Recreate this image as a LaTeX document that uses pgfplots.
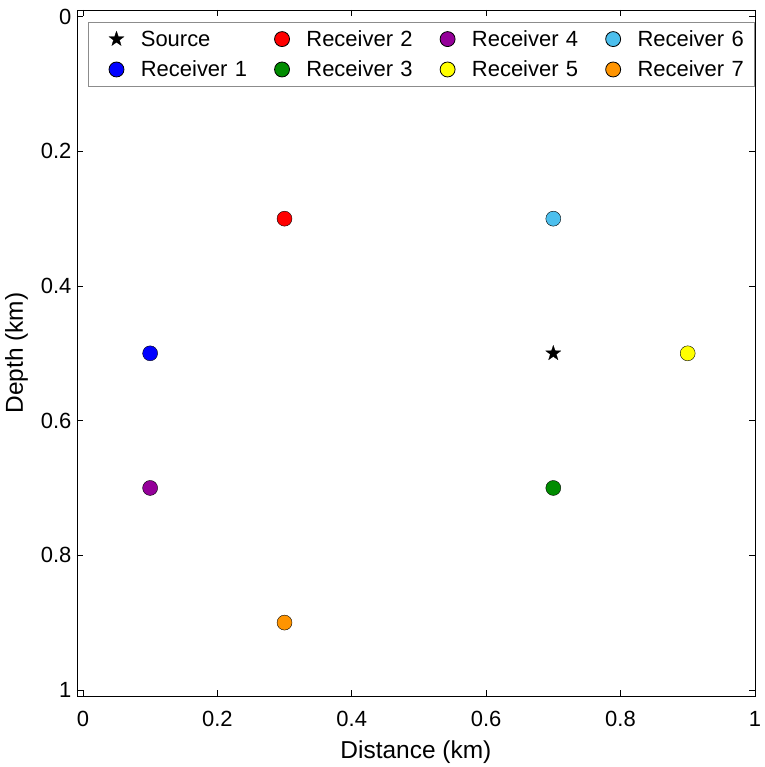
\documentclass[border=0pt]{standalone}
\usepackage{fontspec}
\setmainfont{Liberation Sans}
\usepackage{pgfplots}
\pgfplotsset{compat=1.18}

% filled five-pointed star
\pgfdeclareplotmark{fstar}{%
  \pgfpathmoveto{\pgfpointpolar{90}{\pgfplotmarksize}}%
  \pgfpathlineto{\pgfpointpolar{126}{0.4\pgfplotmarksize}}%
  \pgfpathlineto{\pgfpointpolar{162}{\pgfplotmarksize}}%
  \pgfpathlineto{\pgfpointpolar{198}{0.4\pgfplotmarksize}}%
  \pgfpathlineto{\pgfpointpolar{234}{\pgfplotmarksize}}%
  \pgfpathlineto{\pgfpointpolar{270}{0.4\pgfplotmarksize}}%
  \pgfpathlineto{\pgfpointpolar{306}{\pgfplotmarksize}}%
  \pgfpathlineto{\pgfpointpolar{342}{0.4\pgfplotmarksize}}%
  \pgfpathlineto{\pgfpointpolar{18}{\pgfplotmarksize}}%
  \pgfpathlineto{\pgfpointpolar{54}{0.4\pgfplotmarksize}}%
  \pgfpathclose
  \pgfusepathqfillstroke}

\definecolor{rOne}{rgb}{0,0,1}
\definecolor{rTwo}{rgb}{1,0,0}
\definecolor{rThree}{rgb}{0,0.55,0}
\definecolor{rFour}{rgb}{0.58,0,0.6}
\definecolor{rFive}{rgb}{1,1,0}
\definecolor{rSix}{rgb}{0.3,0.75,0.93}
\definecolor{rSeven}{rgb}{1,0.58,0}

\begin{document}
\begin{tikzpicture}
\begin{axis}[
  name=ax,
  scale only axis, width=679pt, height=687pt,
  xmin=-0.009, xmax=1, ymin=-0.01, ymax=1.009,
  y dir=reverse,
  xtick={0,0.2,0.4,0.6,0.8,1},
  ytick={0,0.2,0.4,0.6,0.8,1},
  xticklabels={0,0.2,0.4,0.6,0.8,1},
  yticklabels={0,0.2,0.4,0.6,0.8,1},
  tick align=inside, major tick length=6pt,
  tick style={black, line width=0.6pt},
  axis line style={line width=0.6pt},
  tick label style={font=\fontsize{22}{26}\selectfont},
  xticklabel style={yshift=-12pt},
  yticklabel style={xshift=-2pt},
  label style={font=\fontsize{24.5}{28}\selectfont},
  xlabel={Distance (km)}, ylabel={Depth (km)},
  xlabel style={yshift=-7pt},
  ylabel style={yshift=6pt},
  legend columns=4,
  legend cell align=left,
  legend style={at={(0.016,0.9825)}, anchor=north west,
    draw=black!45, line width=0.8pt,
    font=\fontsize{22}{26}\selectfont,
    inner xsep=2pt, inner ysep=6pt, row sep=9pt, column sep=0pt,
    nodes={inner xsep=0pt, text width=115pt, align=left}},
  every axis plot/.append style={only marks, mark size=7.5pt,
    mark options={draw=black!70, line width=0.5pt},
    legend image code/.code={%
      \path (0pt,0pt) (50pt,0pt);
      \draw[##1] plot coordinates {(26pt,0pt)};}},
]
\addplot[mark=fstar, mark size=8pt, mark options={fill=black, draw=black, line width=0.2pt}]
  coordinates {(0.7,0.5)};
\addlegendentry{Source}
\addplot[mark=*, mark options={fill=rTwo}] coordinates {(0.3,0.3)};
\addlegendentry{Receiver 2}
\addplot[mark=*, mark options={fill=rFour}] coordinates {(0.1,0.7)};
\addlegendentry{Receiver 4}
\addplot[mark=*, mark options={fill=rSix}] coordinates {(0.7,0.3)};
\addlegendentry{Receiver 6}
\addplot[mark=*, mark options={fill=rOne}] coordinates {(0.1,0.5)};
\addlegendentry{Receiver 1}
\addplot[mark=*, mark options={fill=rThree}] coordinates {(0.7,0.7)};
\addlegendentry{Receiver 3}
\addplot[mark=*, mark options={fill=rFive}] coordinates {(0.9,0.5)};
\addlegendentry{Receiver 5}
\addplot[mark=*, mark options={fill=rSeven}] coordinates {(0.3,0.9)};
\addlegendentry{Receiver 7}
\end{axis}
\path (ax.south west) +(-77pt,-70pt) (ax.north east) +(1pt,10pt);
\end{tikzpicture}
\end{document}
